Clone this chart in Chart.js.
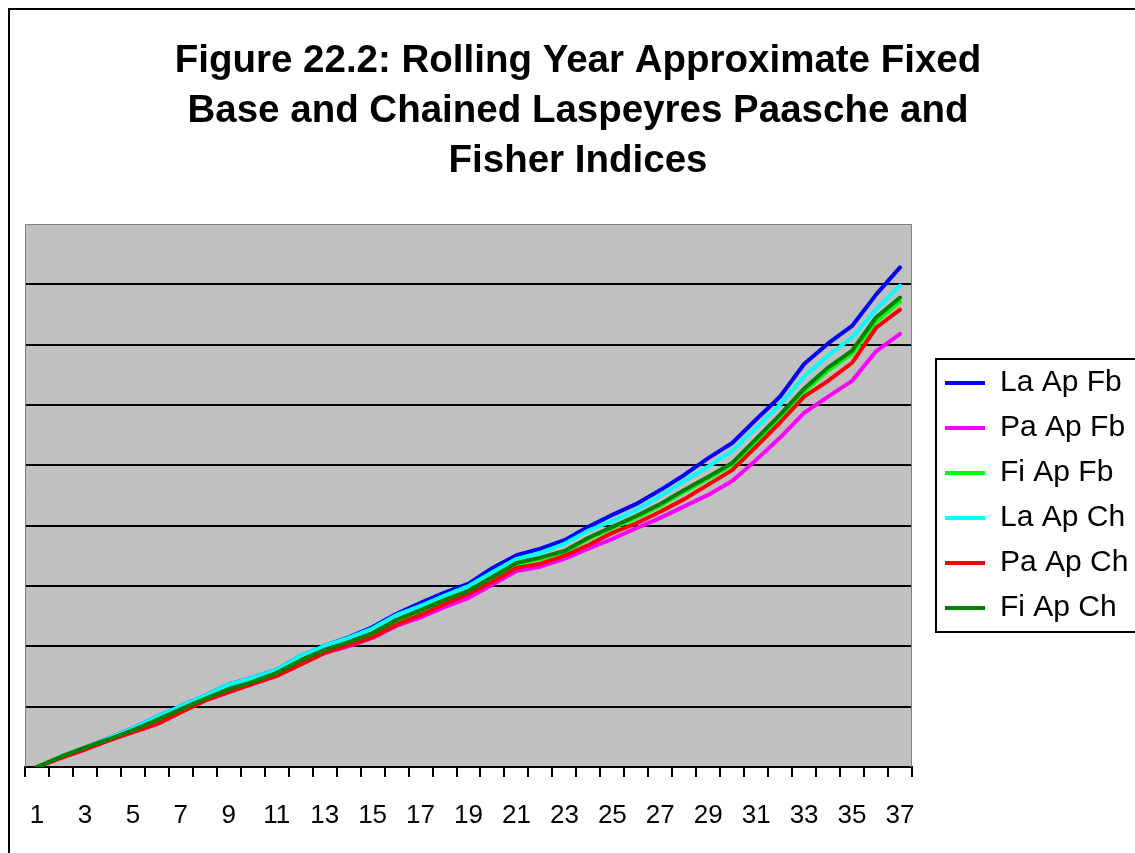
<!DOCTYPE html>
<html lang="en">
  <head>
    <meta charset="UTF-8" />
    <script src="https://cdn.jsdelivr.net/npm/chart.js@4.4.0/dist/chart.umd.min.js"></script>
    <title>Figure 22.2</title>
    <style>
      body { margin: 0; overflow: hidden; background: #fff; }
      #frame {
        position: absolute; left: 8px; top: 8px;
        border: 2px solid #000; width: 1150px; height: 860px;
      }
    </style>
  </head>
  <body>
    <div id="frame"><canvas id="myChart" width="1150" height="860"></canvas></div>

    <script>
      const periods = ["1","2","3","4","5","6","7","8","9","10","11","12","13","14","15","16","17","18","19",
        "20","21","22","23","24","25","26","27","28","29","30","31","32","33","34","35","36","37"];

      const laApFb = [1.000,1.017,1.032,1.048,1.064,1.083,1.101,1.118,1.137,1.148,1.161,1.184,1.201,1.215,1.232,1.254,1.272,1.289,1.304,
        1.330,1.351,1.362,1.376,1.398,1.418,1.436,1.459,1.484,1.512,1.537,1.576,1.614,1.668,1.702,1.731,1.783,1.828];
      const paApFb = [1.000,1.015,1.029,1.044,1.058,1.071,1.091,1.110,1.124,1.138,1.151,1.170,1.189,1.200,1.214,1.234,1.248,1.265,1.280,
        1.302,1.325,1.332,1.345,1.362,1.378,1.396,1.413,1.432,1.451,1.474,1.509,1.546,1.587,1.614,1.640,1.689,1.718];
      const fiApFb = [1.000,1.017,1.032,1.046,1.061,1.078,1.096,1.113,1.129,1.141,1.156,1.176,1.193,1.206,1.221,1.243,1.259,1.276,1.291,
        1.314,1.336,1.345,1.356,1.378,1.396,1.413,1.433,1.456,1.478,1.501,1.539,1.579,1.622,1.657,1.685,1.738,1.771];
      const laApCh = [1.000,1.017,1.032,1.048,1.064,1.083,1.101,1.118,1.137,1.148,1.161,1.184,1.201,1.214,1.230,1.252,1.267,1.284,1.300,
        1.323,1.345,1.355,1.370,1.392,1.408,1.426,1.449,1.474,1.498,1.524,1.562,1.601,1.647,1.682,1.712,1.758,1.798];
      const paApCh = [1.000,1.015,1.029,1.044,1.058,1.071,1.091,1.110,1.124,1.138,1.151,1.170,1.189,1.202,1.215,1.236,1.252,1.270,1.287,
        1.307,1.330,1.337,1.350,1.368,1.388,1.404,1.423,1.444,1.468,1.492,1.531,1.571,1.614,1.640,1.670,1.728,1.758];
      const fiApCh = [1.000,1.017,1.032,1.046,1.061,1.078,1.096,1.113,1.129,1.141,1.156,1.177,1.194,1.207,1.222,1.244,1.260,1.277,1.292,
        1.315,1.338,1.347,1.358,1.380,1.398,1.416,1.436,1.459,1.481,1.504,1.544,1.584,1.627,1.662,1.690,1.745,1.778];

      const FONT = "'Liberation Sans', Arial, sans-serif";

      // grey plot area with thin grey frame, like the Excel original
      const plotArea = {
        id: "plotArea",
        beforeDraw(chart) {
          const { ctx, chartArea: a } = chart;
          ctx.save();
          ctx.fillStyle = "#c0c0c0";
          ctx.fillRect(a.left, a.top, a.right - a.left, a.bottom - a.top);
          ctx.restore();
        },
        beforeDatasetsDraw(chart) {
          const { ctx, chartArea: a } = chart;
          ctx.save();
          ctx.strokeStyle = "#808080";
          ctx.lineWidth = 1;
          ctx.beginPath();
          ctx.moveTo(a.left + 0.5, a.bottom);
          ctx.lineTo(a.left + 0.5, a.top + 0.5);
          ctx.lineTo(a.right - 0.5, a.top + 0.5);
          ctx.lineTo(a.right - 0.5, a.bottom);
          ctx.stroke();
          ctx.restore();
        },
        afterDraw(chart) {
          // box round the legend (runs off the right edge, as in the crop)
          const lg = chart.legend;
          const hb = lg.legendHitBoxes;
          if (!hb || !hb.length) return;
          const top = hb[0].top - 9;
          const bottom = hb[hb.length - 1].top + hb[hb.length - 1].height + 9;
          const { ctx } = chart;
          ctx.save();
          ctx.strokeStyle = "#000";
          ctx.lineWidth = 2;
          ctx.strokeRect(lg.left + 6, top, chart.width, bottom - top);
          ctx.restore();
        },
      };

      function series(label, data, color, order) {
        return {
          label, data, order,
          borderColor: color, backgroundColor: color,
          borderWidth: 4, pointRadius: 0, tension: 0,
          borderJoinStyle: "round", borderCapStyle: "round",
        };
      }

      const ctx = document.getElementById("myChart").getContext("2d");
      new Chart(ctx, {
        type: "line",
        data: {
          labels: periods,
          datasets: [
            series("La Ap Fb", laApFb, "#0000ff", 6),
            series("Pa Ap Fb", paApFb, "#ff00ff", 5),
            series("Fi Ap Fb", fiApFb, "#00ff00", 4),
            series("La Ap Ch", laApCh, "#00ffff", 3),
            series("Pa Ap Ch", paApCh, "#ff0000", 2),
            series("Fi Ap Ch", fiApCh, "#008000", 1),
          ],
        },
        options: {
          responsive: false,
          animation: false,
          layout: { padding: { left: 15, right: 29, top: 0, bottom: 15 } },
          plugins: {
            tooltip: { enabled: false },
            title: {
              display: true,
              text: ["Figure 22.2: Rolling Year Approximate Fixed", "Base and Chained Laspeyres Paasche and", "Fisher Indices"],
              color: "#000",
              font: { family: FONT, size: 38.5, weight: "bold", lineHeight: 50 / 38.5 },
              padding: { top: 26, bottom: 38 },
            },
            legend: {
              position: "right",
              fullSize: false,
              maxWidth: 201,
              labels: {
                color: "#000",
                font: { family: FONT, size: 30 },
                boxWidth: 40,
                boxHeight: 4,
                padding: 15,
                sort: (a, b) => a.datasetIndex - b.datasetIndex,
                // trailing spaces only widen the legend box up to maxWidth
                generateLabels: (chart) =>
                  Chart.defaults.plugins.legend.labels.generateLabels(chart)
                    .map((l) => ({ ...l, text: l.text + "\u00a0\u00a0", lineWidth: 0 })),
              },
            },
          },
          scales: {
            x: {
              offset: true,
              grid: { offset: true, drawOnChartArea: false, drawTicks: true, tickLength: 10, color: "#000", lineWidth: 2 },
              border: { display: true, color: "#000", width: 2 },
              ticks: {
                autoSkip: false, maxRotation: 0, padding: 19, color: "#000",
                font: { family: FONT, size: 26, lineHeight: 40 / 26 },
                callback: (v, i) => (i % 2 === 0 ? periods[i] : ""),
              },
            },
            y: {
              min: 1.0, max: 1.9,
              grid: {
                drawTicks: false, lineWidth: 2,
                color: (c) => (c.tick && c.tick.value >= 1.899 ? "rgba(0,0,0,0)" : "#000"),
              },
              border: { display: false },
              ticks: { display: false, stepSize: 0.1 },
            },
            yRight: {
              position: "right",
              grid: { drawOnChartArea: false, drawTicks: false },
              border: { display: false },
              ticks: { display: false },
              afterFit: (s) => { s.width = 18; },
            },
          },
        },
        plugins: [plotArea],
      });
    </script>
  </body>
</html>
